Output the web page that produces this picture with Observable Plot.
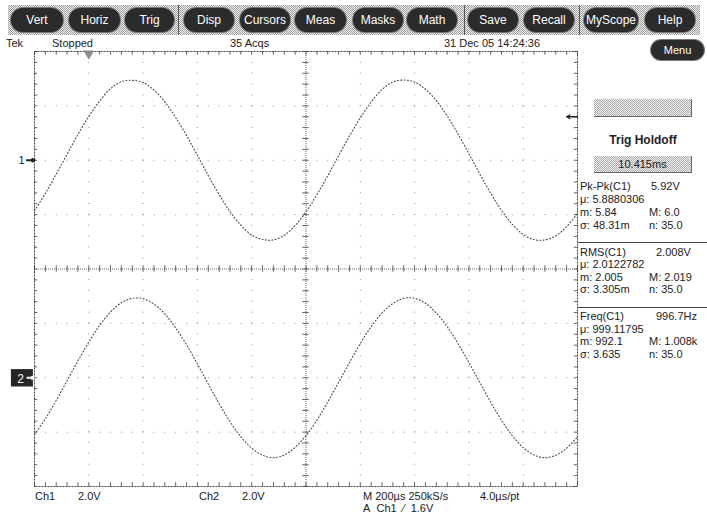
<!DOCTYPE html>
<html>
<head>
<meta charset="utf-8">
<script src="https://cdn.jsdelivr.net/npm/d3@7"></script>
<script src="https://cdn.jsdelivr.net/npm/@observablehq/plot@0.6"></script>
<style>
  html, body { margin: 0; padding: 0; background: #fff; }
  #wrap { position: relative; width: 707px; height: 522px; overflow: hidden; font-family: "Liberation Sans", Arial, sans-serif; color: #222; }
  #wrap svg { position: absolute; left: 0; top: 0; }
  .t { position: absolute; font-size: 11px; line-height: 13px; white-space: nowrap; color: #222; }
  .bar { position: absolute; left: 8px; top: 5px; width: 692px; height: 30px;
         background: repeating-conic-gradient(#9a9a9a 0 25%, #f4f4f4 0 50%) 0 0/2px 2px; }
  .btn { position: absolute; top: 8px; height: 24px; border-radius: 12px; background: #2b2b2b;
         color: #fff; font-size: 12px; line-height: 24px; text-align: center; box-shadow: 0 0 0 1px #777; }
  .sep { position: absolute; top: 5px; width: 1px; height: 30px; background: #555; }
  .box { position: absolute; background: repeating-conic-gradient(#a8a8a8 0 25%, #f6f6f6 0 50%) 0 0/2px 2px;
         border-right: 1px solid #666; border-bottom: 1px solid #666; text-align: center; font-size: 11px; line-height: 16px; }
  .hr { position: absolute; left: 578px; width: 129px; height: 1px; background: #444; }
</style>
</head>
<body>
<div id="wrap"></div>
<script>
// ---- data ----
const times = [-200,-160,-120,-80,-40,0,40,80,120,160,200,240,280,320,360,400,440,480,520,560,600,640,680,720,760,800,840,880,920,960,1000,1040,1080,1120,1160,1200,1240,1280,1320,1360,1400,1440,1480,1520,1560,1600,1640,1680,1720,1760,1800]; // µs
const ch1Volts = [-1.85,-1.22,-0.51,0.22,0.95,1.61,2.18,2.63,2.89,2.94,2.86,2.58,2.15,1.57,0.91,0.18,-0.56,-1.26,-1.89,-2.39,-2.75,-2.91,-2.93,-2.76,-2.40,-1.90,-1.27,-0.57,0.17,0.89,1.56,2.14,2.60,2.88,2.95,2.88,2.61,2.19,1.63,0.96,0.24,-0.50,-1.21,-1.84,-2.36,-2.73,-2.92,-2.93,-2.78,-2.44,-1.95];
const ch2Volts = [-2.09,-1.51,-0.83,-0.11,0.62,1.31,1.93,2.42,2.76,2.92,2.91,2.71,2.35,1.83,1.21,0.51,-0.23,-0.95,-1.61,-2.17,-2.59,-2.85,-2.94,-2.84,-2.56,-2.13,-1.56,-0.89,-0.17,0.56,1.26,1.88,2.38,2.73,2.92,2.92,2.74,2.38,1.88,1.26,0.56,-0.17,-0.89,-1.56,-2.13,-2.57,-2.84,-2.94,-2.85,-2.59,-2.17];
const voltsPerDiv = 2.0;
const ch1OffsetDiv = 2;
const ch2OffsetDiv = -2;
const trigLevelVolts = 1.6;
const majorTimes = [-200,0,200,400,600,800,1000,1200,1400,1600,1800];
const majorDivs = [-4,-3,-2,-1,0,1,2,3,4];
const centerTime = 800;

const buttons = [["Vert",11,52],["Horiz",69,51],["Trig",125,49],["Disp",184,50],["Cursors",240,50],["Meas",295,51],["Masks",353,50],["Math",407,50],["Save",468,50],["Recall",524,50],["MyScope",584,54],["Help",645,50]];
const separators = [178,464,579];

const meas = [
  [187,"Pk-Pk(C1)","5.92V",651],[200,"μ: 5.8880306",""],[213,"m: 5.84","M: 6.0",649],[226,"σ: 48.31m","n: 35.0",649],
  [253,"RMS(C1)","2.008V",656],[265,"μ: 2.0122782",""],[278,"m: 2.005","M: 2.019",649],[290,"σ: 3.305m","n: 35.0",649],
  [317,"Freq(C1)","996.7Hz",656],[330,"μ: 999.11795",""],[342,"m: 992.1","M: 1.008k",649],[355,"σ: 3.635","n: 35.0",649]
];
const hrs = [242,307];

// ---- derived ----
const minorTimes = d3.range(-200, 1800.1, 40);
const minorDivs = d3.range(-4, 4.01, 0.2);
const ch1 = times.map((t,i) => ({t, y: ch1Volts[i] / voltsPerDiv + ch1OffsetDiv}));
const ch2 = times.map((t,i) => ({t, y: ch2Volts[i] / voltsPerDiv + ch2OffsetDiv}));
const grid = "#8c8c8c";

const plot = Plot.plot({
  width: 707, height: 522,
  marginLeft: 34, marginRight: 130, marginTop: 51, marginBottom: 36,
  x: {domain: [-200, 1800], axis: null},
  y: {domain: [-4, 4], axis: null},
  style: {background: "transparent", fontFamily: "Liberation Sans, Arial, sans-serif"},
  marks: [
    Plot.ruleX(majorTimes, {stroke: grid, strokeDasharray: "1,9.86"}),
    Plot.ruleY(majorDivs, {stroke: grid, strokeDasharray: "1,9.86"}),
    Plot.ruleX([centerTime], {stroke: "#666", strokeDasharray: "1,1"}),
    Plot.ruleY([0], {stroke: "#666", strokeDasharray: "1,1"}),
    Plot.ruleX(minorTimes, {x: d => d, y1: -0.06, y2: 0.06, stroke: "#666"}),
    Plot.ruleY(minorDivs, {y: d => d, x1: centerTime - 12, x2: centerTime + 12, stroke: "#666"}),
    Plot.ruleX(minorTimes, {x: d => d, y1: -4, y2: -3.93, stroke: "#666"}),
    Plot.ruleX(minorTimes, {x: d => d, y1: 3.93, y2: 4, stroke: "#666"}),
    Plot.ruleY(minorDivs, {y: d => d, x1: -200, x2: -188, stroke: "#666"}),
    Plot.ruleY(minorDivs, {y: d => d, x1: 1788, x2: 1800, stroke: "#666"}),
    Plot.frame({stroke: "#444", strokeDasharray: "2,1"}),
    Plot.line(ch1, {x: "t", y: "y", curve: "catmull-rom", stroke: "#4a4a4a", strokeWidth: 1.1, strokeDasharray: "1,2.3"}),
    Plot.line(ch2, {x: "t", y: "y", curve: "catmull-rom", stroke: "#4a4a4a", strokeWidth: 1.1, strokeDasharray: "1,2.3"}),
    // trigger position marker
    Plot.dot([0], {x: d => d, y: 4, dy: 2, symbol: "triangle", rotate: 180, r: 4, fill: "#8a8a8a", stroke: "none"}),
    // trigger level arrow
    Plot.arrow([trigLevelVolts], {x1: 1800, x2: 1760, y1: d => d / voltsPerDiv + ch1OffsetDiv, y2: d => d / voltsPerDiv + ch1OffsetDiv, stroke: "#222", strokeWidth: 1.3, headLength: 5}),
    // channel ground markers
    Plot.text([ch1OffsetDiv], {x: -200, y: d => d, dx: -13, text: () => "1", fontSize: 11, fill: "#222"}),
    Plot.arrow([ch1OffsetDiv], {x1: -228, x2: -200, y1: d => d, y2: d => d, stroke: "#222", strokeWidth: 2, headLength: 5}),
    Plot.rect([ch2OffsetDiv], {x1: -285, x2: -204, y1: d => d - 0.17, y2: d => d + 0.15, fill: "#262626"}),
    Plot.text([ch2OffsetDiv], {x: -200, y: d => d, dx: -14, dy: 1, text: () => "2", fontSize: 12, fill: "#fff"}),
    Plot.arrow([ch2OffsetDiv], {x1: -226, x2: -203, y1: d => d, y2: d => d, stroke: "#fff", strokeWidth: 2, headLength: 4})
  ]
});

const wrap = document.getElementById("wrap");
wrap.appendChild(plot);

function add(html) { wrap.insertAdjacentHTML("beforeend", html); }
add(`<div class="bar"></div>`);
for (const [label, left, w] of buttons) add(`<div class="btn" style="left:${left}px;width:${w}px">${label}</div>`);
for (const x of separators) add(`<div class="sep" style="left:${x}px"></div>`);

function txt(s, left, cy, extra = "") { add(`<div class="t" style="left:${left}px;top:${cy - 7}px;${extra}">${s}</div>`); }
txt("Tek", 6, 44); txt("Stopped", 52, 44); txt("35 Acqs", 230, 44); txt("31 Dec 05 14:24:36", 444, 44);
add(`<div class="btn" style="left:651px;top:40px;width:53px;height:20px;line-height:20px;font-size:11px;border-radius:10px">Menu</div>`);

add(`<div class="box" style="left:594px;top:99px;width:97px;height:17px"></div>`);
add(`<div class="t" style="left:594px;width:98px;text-align:center;top:134px;font-weight:bold;font-size:12px">Trig Holdoff</div>`);
add(`<div class="box" style="left:594px;top:156px;width:97px;height:16px">10.415ms</div>`);
for (const [cy, a, b, bx] of meas) { txt(a, 580, cy); if (b) txt(b, bx, cy); }
for (const y of hrs) add(`<div class="hr" style="top:${y}px"></div>`);

txt("Ch1", 35, 497); txt("2.0V", 78, 497); txt("Ch2", 199, 497); txt("2.0V", 242, 497);
txt("M 200µs 250kS/s", 363, 497); txt("4.0µs/pt", 480, 497); txt("A&nbsp; Ch1&nbsp; ⁄&nbsp; 1.6V", 363, 509);
</script>
</body>
</html>
